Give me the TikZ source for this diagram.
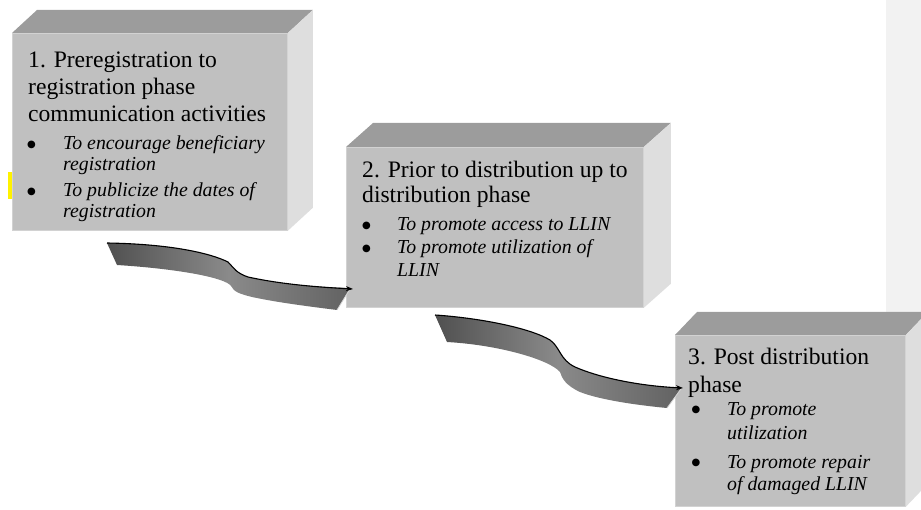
\documentclass[tikz,border=0pt]{standalone}
\usepackage{fontspec}
\setmainfont{Liberation Serif}
\newfontfamily\symfont{DejaVu Sans}
\usetikzlibrary{arrows.meta}
\definecolor{boxfront}{HTML}{C0C0C0}
\definecolor{boxtop}{HTML}{9C9C9C}
\definecolor{boxside}{HTML}{DEDEDE}
\definecolor{boxedge}{HTML}{D2D2D2}
\definecolor{panel}{HTML}{F2F2F2}
\definecolor{ribA}{HTML}{505050}
\definecolor{ribB}{HTML}{8A8A8A}
\definecolor{ribC}{HTML}{626262}
\tikzset{
  front/.style={fill=boxfront, draw=boxedge, line width=0.8pt, anchor=north west, inner sep=0pt},
  topface/.style={fill=boxtop},
  sideface/.style={fill=boxside},
  ttl/.style={anchor=base west, inner sep=0pt, font=\fontsize{23.6}{27}\selectfont},
  itm/.style={anchor=base west, inner sep=0pt, font=\fontsize{19.8}{23}\selectfont\itshape},
  bul/.style={anchor=base west, inner sep=0pt, font=\symfont\fontsize{10}{11}\selectfont},
  ribbon/.style={left color=ribA, right color=ribC, middle color=ribB},
  ribedge/.style={line width=1.1pt, black, -{Stealth[length=7pt,width=5pt]}},
}
\begin{document}
\begin{tikzpicture}[x=1pt,y=-1pt]
\useasboundingbox (0,0) rectangle (921,510);
\clip (0,0) rectangle (921,510);
% right panel
\fill[panel] (886,0) rectangle (921,312);
% yellow mark
\fill[yellow] (8,172) rectangle (11.5,199);

% ---- box 1
\node[front, minimum width=275pt, minimum height=197pt] (box1) at (12,33) {};
\fill[topface] (box1.north west) -- ++(25,-23) -- ([shift={(25,-23)}]box1.north east) -- (box1.north east) -- cycle;
\fill[sideface] (box1.north east) -- ++(25,-23) -- ([shift={(25,-23)}]box1.south east) -- (box1.south east) -- cycle;

% ---- box 2
\node[front, minimum width=297pt, minimum height=160pt] (box2) at (346,147) {};
\fill[topface] (box2.north west) -- ++(27,-24) -- ([shift={(27,-24)}]box2.north east) -- (box2.north east) -- cycle;
\fill[sideface] (box2.north east) -- ++(27,-24) -- ([shift={(27,-24)}]box2.south east) -- (box2.south east) -- cycle;

% ---- box 3
\node[front, minimum width=230pt, minimum height=171pt] (box3) at (675,335) {};
\fill[topface] (box3.north west) -- ++(22,-23) -- ([shift={(22,-23)}]box3.north east) -- (box3.north east) -- cycle;
\fill[sideface] (box3.north east) -- ++(22,-23) -- ([shift={(22,-23)}]box3.south east) -- (box3.south east) -- cycle;

% ---- texts box 1
\node[ttl] (t1a) at (28,68) {1. Preregistration to};
\node[ttl] (t1b) at (28,95) {registration phase};
\node[ttl] (t1c) at (28,122) {communication activities};
\node[bul] (u1a) at (27,147.5) {●};
\node[itm] (i1a) at (63,150) {To encourage beneficiary};
\node[itm] (i1b) at (63,171) {registration};
\node[bul] (u1b) at (27,194.5) {●};
\node[itm] (i1c) at (63,197) {To publicize the dates of};
\node[itm] (i1d) at (63,218) {registration};

% ---- texts box 2
\node[ttl] (t2a) at (362,178) {2. Prior to distribution up to};
\node[ttl] (t2b) at (362,203) {distribution phase};
\node[bul] (u2a) at (362,228.5) {●};
\node[itm] (i2a) at (397,231) {To promote access to LLIN};
\node[bul] (u2b) at (362,251.5) {●};
\node[itm] (i2b) at (397,254) {To promote utilization of};
\node[itm] (i2c) at (397,277) {LLIN};

% ---- texts box 3
\node[ttl] (t3a) at (688,365) {3. Post distribution};
\node[ttl] (t3b) at (688,392) {phase};
\node[bul] (u3a) at (691.5,412.5) {●};
\node[itm] (i3a) at (727,415) {To promote};
\node[itm] (i3b) at (727,439) {utilization};
\node[bul] (u3b) at (691.5,465.5) {●};
\node[itm] (i3c) at (727,468) {To promote repair};
\node[itm] (i3d) at (727,490) {of damaged LLIN};

% ---- ribbon arrow 1 (box1 -> box2)
\coordinate (a1s) at (107,243);
\coordinate (a1e) at (353,289);
\shade[ribbon] (a1s) .. controls (170,244) and (210,253) .. (228,262)
  .. controls (234,268) and (236,273) .. (248,277)
  .. controls (280,284) and (315,287) .. (350,288)
  -- (337,310)
  .. controls (305,306) and (275,302) .. (252,297)
  .. controls (240,294) and (234,292) .. (231,286)
  .. controls (226,278) and (180,269) .. (117,265) -- cycle;
\draw[gray!35, line width=0.8pt] (350,289) -- (337,310);
\draw[ribedge] (a1s) .. controls (170,244) and (210,253) .. (228,262)
  .. controls (234,268) and (236,273) .. (248,277)
  .. controls (280,284) and (315,287) .. (a1e);

% ---- ribbon arrow 2 (box2 -> box3)
\coordinate (a2s) at (435,315);
\coordinate (a2e) at (683,388);
\shade[ribbon] (a2s) .. controls (480,318) and (530,328) .. (550,340)
  .. controls (560,347) and (560,360) .. (575,367)
  .. controls (600,378) and (640,386) .. (681,388)
  -- (667,408)
  .. controls (625,404) and (595,398) .. (580,392)
  .. controls (565,385) and (562,378) .. (560,372)
  .. controls (550,360) and (500,345) .. (447,342) -- cycle;
\draw[gray!35, line width=0.8pt] (681,389) -- (667,408);
\draw[ribedge] (a2s) .. controls (480,318) and (530,328) .. (550,340)
  .. controls (560,347) and (560,360) .. (575,367)
  .. controls (600,378) and (640,386) .. (a2e);
\end{tikzpicture}
\end{document}
